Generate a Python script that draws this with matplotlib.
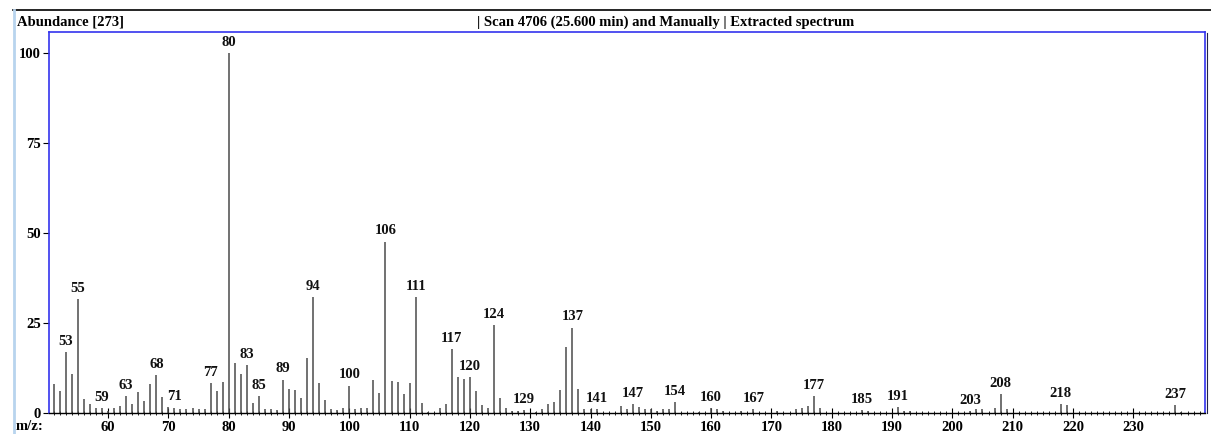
import numpy as np
import matplotlib
matplotlib.use('Agg')
import matplotlib.pyplot as plt
from matplotlib.ticker import MultipleLocator
from matplotlib.lines import Line2D

# Extracted spectrum, relative abundance (%) per m/z
mz = [51, 52, 53, 54, 55, 56, 57, 58, 59, 60,
      61, 62, 63, 64, 65, 66, 67, 68, 69, 70,
      71, 72, 73, 74, 75, 76, 77, 78, 79, 80,
      81, 82, 83, 84, 85, 86, 87, 88, 89, 90,
      91, 92, 93, 94, 95, 96, 97, 98, 99, 100,
      101, 102, 103, 104, 105, 106, 107, 108, 109, 110,
      111, 112, 113, 115, 116, 117, 118, 119, 120,
      121, 122, 123, 124, 125, 126, 127, 128, 129,
      131, 132, 133, 134, 135, 136, 137, 138, 139, 140,
      141, 145, 146, 147, 148, 149, 150,
      151, 152, 153, 154, 158, 160,
      161, 162, 165, 167, 171, 174, 175, 176, 177, 178,
      185, 186, 191, 192, 193, 203, 204, 205, 207, 208, 209,
      218, 219, 237, 238]
abundance = [8.0, 6.2, 17.0, 10.8, 31.6, 3.9, 2.5, 1.4, 1.4, 0.6,
             1.5, 2.0, 4.7, 2.5, 5.7, 3.4, 8.0, 10.6, 4.4, 1.7,
             1.5, 1.0, 1.0, 1.4, 1.0, 1.0, 8.4, 6.0, 8.5, 100.0,
             13.9, 10.8, 13.4, 2.9, 4.7, 1.1, 1.0, 0.7, 9.3, 6.7,
             6.4, 4.3, 15.2, 32.1, 8.2, 3.6, 1.1, 0.7, 1.4, 7.6,
             1.1, 1.4, 1.4, 9.3, 5.5, 47.6, 9.0, 8.7, 5.2, 8.2,
             32.1, 2.8, 0.3, 1.4, 2.5, 17.8, 10.0, 9.4, 10.0,
             6.0, 2.2, 1.4, 24.5, 4.2, 1.4, 0.6, 0.6, 0.7,
             0.3, 1.0, 2.5, 3.0, 6.3, 18.3, 23.7, 6.8, 1.1, 1.0,
             1.0, 2.0, 1.1, 2.5, 1.7, 1.1, 1.1,
             0.6, 1.1, 1.1, 3.0, 0.3, 1.4,
             1.0, 0.6, 0.6, 1.0, 0.6, 1.1, 1.4, 2.0, 4.8, 1.4,
             0.7, 0.5, 1.7, 0.6, 0.6, 0.6, 1.0, 1.0, 1.4, 5.2, 1.1,
             2.5, 2.2, 2.2, 0.3]

# peaks that get an m/z label
labelled = [53, 55, 59, 63, 68, 71, 77, 80, 83, 85, 89, 94, 100, 106, 111,
            117, 120, 124, 129, 137, 141, 147, 154, 160, 167, 177, 185, 191,
            203, 208, 218, 237]

header_left = 'Abundance [273]'
header_right = '| Scan 4706 (25.600 min) and Manually | Extracted spectrum'

serif = ['Liberation Serif', 'DejaVu Serif']
fs = 10.5
W, H = 1211, 434

fig = plt.figure(figsize=(W / 100, H / 100), dpi=100)
ax = fig.add_axes([49 / W, 1 - 413 / H, (1205 - 49) / W, (413 - 32) / H])

ax.vlines(mz, 0, abundance, colors='#4a4a4a', linewidth=1.1)

heights = dict(zip(mz, abundance))
for m in labelled:
    ax.annotate(str(m), (m, heights[m]), xytext=(0, 3), textcoords='offset points',
                ha='center', va='bottom', fontsize=fs, fontweight='bold',
                family=serif, color='#111111')

ax.set_xlim(50.2, 241.9)
ax.set_ylim(0, 105.8)

ax.set_yticks([0, 25, 50, 75, 100])
ax.xaxis.set_major_locator(MultipleLocator(10))
ax.xaxis.set_minor_locator(MultipleLocator(1))
ax.set_xticks(np.arange(60, 240, 10))

ax.tick_params(axis='y', direction='out', length=4, width=0.8, pad=2,
               labelsize=fs, colors='black')
ax.tick_params(axis='x', which='major', direction='inout', length=7, width=0.8,
               pad=2, labelsize=fs)
ax.tick_params(axis='x', which='minor', direction='inout', length=3.5, width=0.6)
for lbl in ax.get_xticklabels() + ax.get_yticklabels():
    lbl.set_family(serif)
    lbl.set_fontweight('bold')

for side in ['left', 'top', 'right']:
    ax.spines[side].set_color('#3333ee')
    ax.spines[side].set_linewidth(1.2)
ax.spines['bottom'].set_color('black')
ax.spines['bottom'].set_linewidth(1.0)

# window frame: black rule along the top, light blue rule down the left
fig.add_artist(Line2D([13 / W, 1], [1 - 10 / H, 1 - 10 / H], color='black', linewidth=1.2))
fig.add_artist(Line2D([14 / W, 14 / W], [0, 1 - 10 / H], color='#b8d4ee', linewidth=2))
fig.add_artist(Line2D([1207 / W, 1207 / W], [1 - 413 / H, 1 - 33 / H], color='#222244', linewidth=0.8))

fig.text(17 / W, 1 - 22 / H, header_left, ha='left', va='center', fontsize=fs,
         fontweight='bold', family=serif)
fig.text(477 / W, 1 - 22 / H, header_right, ha='left', va='center', fontsize=fs,
         fontweight='bold', family=serif)
fig.text(16 / W, 1 - 427 / H, 'm/z:', ha='left', va='center', fontsize=fs,
         fontweight='bold', family=serif)

fig.savefig('out.png', dpi=100)
